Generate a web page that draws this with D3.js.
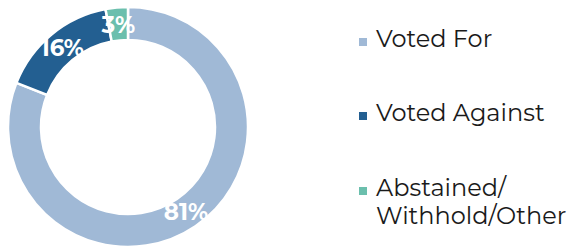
<!DOCTYPE html>
<html>
<head>
<meta charset="utf-8">
<script src="https://cdn.jsdelivr.net/npm/d3@7"></script>
<style>
  body { margin: 0; background: #fff; }
  svg { display: block; }
</style>
</head>
<body>
<svg width="568" height="247"></svg>
<script>
const categories = ["Voted For", "Voted Against", "Abstained/Withhold/Other"];
const values = [81, 16, 3];
const legendLines = [["Voted For"], ["Voted Against"], ["Abstained/", "Withhold/Other"]];
const colors = ["#a0b9d6", "#235f91", "#6bbfad"];

const svg = d3.select("svg");
const g = svg.append("g").attr("transform", "translate(128,127)");

const pie = d3.pie().sort(null).value(d => d)(values);
const arc = d3.arc().innerRadius(87).outerRadius(120);
const labelArc = d3.arc().innerRadius(103).outerRadius(103);

g.selectAll("path")
    .data(pie)
    .enter()
    .append("path")
    .attr("d", arc)
    .attr("fill", (d, i) => colors[i])
    .attr("stroke", "#fff")
    .attr("stroke-width", 2.5);

g.selectAll("text")
    .data(pie)
    .enter()
    .append("text")
    .attr("transform", d => "translate(" + labelArc.centroid(d) + ")")
    .attr("text-anchor", "middle")
    .attr("dy", "0.36em")
    .attr("fill", "#fff")
    .attr("font-family", "Montserrat, 'Open Sans', sans-serif")
    .attr("font-weight", "bold")
    .attr("font-size", 23)
    .text(d => d.value + "%");

const legend = svg.append("g").attr("transform", "translate(359,0)");
const rowY = [47, 121, 196];

const item = legend.selectAll("g")
    .data(categories)
    .enter()
    .append("g")
    .attr("transform", (d, i) => "translate(0," + rowY[i] + ")");

item.append("rect")
    .attr("x", 0)
    .attr("y", -9)
    .attr("width", 8)
    .attr("height", 8)
    .attr("fill", (d, i) => colors[i]);

item.append("text")
    .attr("x", 17)
    .attr("fill", "#1a1a1a")
    .attr("font-family", "Montserrat, 'Noto Sans', sans-serif")
    .attr("font-size", 24)
    .selectAll("tspan")
    .data((d, i) => legendLines[i])
    .enter()
    .append("tspan")
    .attr("x", 17)
    .attr("dy", (d, j) => j === 0 ? 0 : 28)
    .text(d => d);
</script>
</body>
</html>
